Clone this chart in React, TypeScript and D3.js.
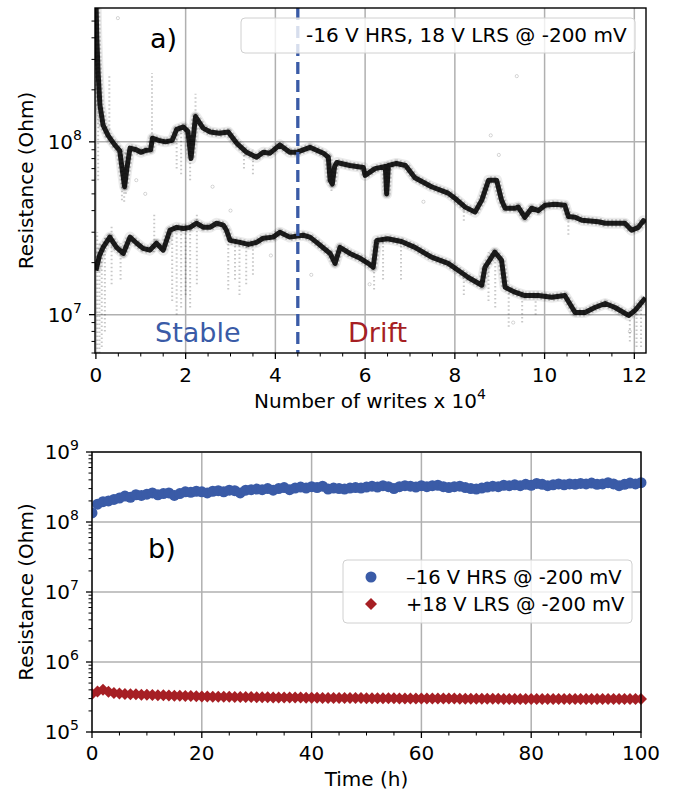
import React from "react";
import * as d3 from "d3";

// ---------- Panel a) data (writes in units of 1e4, resistance in Ohm) ----------
const hrsWrites = [0.0, 0.02, 0.05, 0.09, 0.16, 0.27, 0.42, 0.53, 0.6, 0.64, 0.69, 0.76, 0.9, 1.0, 1.1, 1.22, 1.26, 1.4, 1.55, 1.7, 1.8, 1.95, 2.05, 2.12, 2.22, 2.39, 2.55, 2.75, 2.95, 3.14, 3.36, 3.58, 3.73, 3.88, 4.1, 4.32, 4.47, 4.77, 5.07, 5.18, 5.22, 5.27, 5.32, 5.37, 5.66, 5.96, 6.0, 6.22, 6.45, 6.48, 6.52, 6.7, 6.9, 7.11, 7.48, 7.85, 8.0, 8.23, 8.45, 8.6, 8.75, 8.93, 9.04, 9.12, 9.34, 9.41, 9.56, 9.71, 9.86, 10.01, 10.23, 10.45, 10.53, 10.68, 10.83, 11.2, 11.35, 11.79, 11.94, 12.09, 12.2, 12.25];
const hrsOhm = [7.0e8, 4.0e8, 2.5e8, 1.63e8, 1.25e8, 1.09e8, 9.6e7, 8.9e7, 6.5e7, 5.5e7, 7.0e7, 9.2e7, 9.0e7, 8.7e7, 8.9e7, 9.0e7, 1.05e8, 1.02e8, 1.0e8, 1.02e8, 1.18e8, 1.22e8, 1.15e8, 8.0e7, 1.4e8, 1.2e8, 1.14e8, 1.12e8, 1.14e8, 9.8e7, 8.7e7, 8.15e7, 8.7e7, 8.6e7, 9.6e7, 8.7e7, 8.7e7, 9.3e7, 8.6e7, 8.15e7, 6.0e7, 5.7e7, 7.2e7, 7.6e7, 7.3e7, 7.1e7, 6.4e7, 7.0e7, 7.2e7, 5.0e7, 7.3e7, 7.5e7, 7.3e7, 6.2e7, 5.5e7, 5.05e7, 4.72e7, 4.19e7, 3.92e7, 4.6e7, 6.0e7, 6.0e7, 4.6e7, 4.13e7, 4.13e7, 4.2e7, 3.66e7, 4.13e7, 4.0e7, 4.3e7, 4.35e7, 4.3e7, 3.7e7, 3.66e7, 3.52e7, 3.45e7, 3.38e7, 3.38e7, 3.08e7, 3.2e7, 3.5e7, 3.4e7];

const lrsWrites = [0.0, 0.08, 0.16, 0.31, 0.46, 0.61, 0.76, 0.91, 1.05, 1.2, 1.35, 1.5, 1.65, 1.8, 1.95, 2.1, 2.24, 2.4, 2.54, 2.69, 2.84, 2.91, 2.99, 3.21, 3.4, 3.58, 3.73, 3.95, 4.1, 4.32, 4.62, 4.77, 4.92, 5.22, 5.33, 5.44, 5.66, 5.89, 6.07, 6.18, 6.26, 6.5, 6.81, 7.11, 7.48, 7.85, 8.08, 8.3, 8.6, 8.67, 8.89, 9.04, 9.12, 9.34, 9.56, 9.86, 10.16, 10.45, 10.68, 10.9, 11.12, 11.35, 11.57, 11.87, 12.02, 12.2, 12.25];
const lrsOhm = [1.8e7, 2.2e7, 2.45e7, 2.81e7, 2.45e7, 2.26e7, 2.81e7, 2.59e7, 2.42e7, 2.36e7, 2.59e7, 2.36e7, 3.08e7, 3.2e7, 3.15e7, 3.2e7, 3.38e7, 3.2e7, 3.2e7, 3.38e7, 3.3e7, 3.08e7, 2.69e7, 2.62e7, 2.55e7, 2.62e7, 2.77e7, 2.81e7, 3.0e7, 2.81e7, 2.88e7, 2.81e7, 2.62e7, 2.26e7, 1.98e7, 2.45e7, 2.26e7, 2.12e7, 1.98e7, 1.88e7, 2.69e7, 2.75e7, 2.65e7, 2.45e7, 2.15e7, 1.98e7, 1.8e7, 1.64e7, 1.48e7, 1.88e7, 2.3e7, 2.07e7, 1.44e7, 1.35e7, 1.29e7, 1.29e7, 1.26e7, 1.29e7, 1.03e7, 1.03e7, 1.1e7, 1.16e7, 1.1e7, 9.9e6, 1.06e7, 1.21e7, 1.25e7];

// noise streaks: [writes, low Ohm, high Ohm]
const hrsStreaks: [number, number, number][] = [
  [0.05, 6e7, 3.2e8], [0.3, 1.0e8, 2.4e8], [0.58, 4.6e7, 9e7], [0.63, 4.5e7, 9e7], [0.67, 5e7, 9e7],
  [1.25, 1.0e8, 2.5e8], [1.8, 7e7, 1.15e8], [1.9, 6.5e7, 1.2e8], [2.1, 6e7, 1.1e8], [2.22, 1.1e8, 1.9e8],
  [3.3, 7e7, 9e7], [3.5, 6.5e7, 9e7], [5.25, 5.2e7, 7.5e7], [6.48, 4.8e7, 7.4e7], [10.53, 2.9e7, 4.2e7], [8.2, 3.5e7, 4.5e7],
];
const lrsStreaks: [number, number, number][] = [
  [0.03, 6e6, 3e7], [0.08, 6e6, 2.6e7], [0.13, 6.5e6, 2.6e7], [0.2, 8e6, 2.8e7], [0.35, 1.5e7, 3.3e7], [0.55, 1.6e7, 2.6e7],
  [1.3, 2.3e7, 3.8e7], [1.7, 1.2e7, 3.2e7], [1.8, 1.0e7, 3.2e7], [1.9, 1.1e7, 3.3e7], [2.0, 1.3e7, 3.3e7], [2.1, 1.1e7, 3.3e7],
  [2.25, 1.5e7, 3.9e7], [2.95, 1.4e7, 2.7e7], [3.1, 1.6e7, 2.7e7], [3.2, 1.3e7, 2.6e7], [3.35, 1.5e7, 2.6e7], [3.5, 1.7e7, 2.6e7],
  [6.2, 1.4e7, 2.8e7], [6.4, 1.6e7, 2.8e7], [6.8, 1.6e7, 2.7e7], [8.2, 1.3e7, 1.8e7], [8.75, 1.2e7, 2.3e7], [8.9, 1.1e7, 2.3e7],
  [9.2, 8.5e6, 1.4e7], [9.5, 9e6, 1.3e7], [9.8, 1e7, 1.3e7], [11.9, 7e6, 1.05e7], [12.05, 6.5e6, 1.1e7], [12.15, 6.5e6, 1.2e7],
];
const outlierWrites = [0.49, 9.38, 8.8, 8.98, 0.9, 1.1, 2.6, 3.0, 7.3, 6.1, 9.3, 11.9, 4.8, 3.9];
const outlierOhm = [5.2e8, 2.4e8, 1.09e8, 8.4e7, 6e7, 5e7, 5.5e7, 4e7, 4.5e7, 1.5e7, 9e6, 8e6, 1.7e7, 2.2e7];

const xTicksA = [0, 2, 4, 6, 8, 10, 12];
const yTicksA = [1e7, 1e8];
const dividerWrites = 4.5;

// ---------- Panel b) data (time in h, resistance in Ohm) ----------
const timeHours = d3.range(0, 101);
const hrsTimeOhm = [1.35e8, 1.8e8, 1.95e8, 2.0e8, 2.1e8, 2.2e8, 2.35e8, 2.25e8, 2.45e8, 2.4e8, 2.5e8, 2.6e8, 2.45e8, 2.55e8, 2.6e8, 2.4e8, 2.55e8, 2.7e8, 2.65e8, 2.75e8, 2.7e8, 2.6e8, 2.75e8, 2.8e8, 2.7e8, 2.85e8, 2.8e8, 2.6e8, 2.85e8, 2.9e8, 2.95e8, 2.9e8, 3.0e8, 2.85e8, 3.0e8, 3.1e8, 2.9e8, 3.05e8, 3.15e8, 3.05e8, 3.2e8, 3.1e8, 3.25e8, 2.95e8, 3.05e8, 3.0e8, 2.95e8, 3.05e8, 3.1e8, 3.05e8, 3.15e8, 3.25e8, 3.15e8, 3.3e8, 3.2e8, 3.0e8, 3.2e8, 3.3e8, 3.25e8, 3.15e8, 3.3e8, 3.2e8, 3.3e8, 3.35e8, 3.2e8, 3.1e8, 3.2e8, 3.25e8, 3.1e8, 3.0e8, 2.95e8, 3.05e8, 3.15e8, 3.25e8, 3.2e8, 3.35e8, 3.3e8, 3.4e8, 3.3e8, 3.45e8, 3.35e8, 3.55e8, 3.45e8, 3.3e8, 3.4e8, 3.5e8, 3.4e8, 3.5e8, 3.45e8, 3.55e8, 3.5e8, 3.6e8, 3.45e8, 3.5e8, 3.65e8, 3.5e8, 3.3e8, 3.45e8, 3.6e8, 3.5e8, 3.65e8];
const lrsTimeOhm = [3.5e5, 3.8e5, 4.0e5, 3.75e5, 3.6e5, 3.55e5, 3.5e5, 3.45e5, 3.45e5, 3.4e5, 3.4e5, 3.38e5, 3.35e5, 3.35e5, 3.32e5, 3.3e5, 3.3e5, 3.28e5, 3.27e5, 3.25e5, 3.22e5, 3.22e5, 3.2e5, 3.2e5, 3.18e5, 3.18e5, 3.17e5, 3.16e5, 3.15e5, 3.15e5, 3.14e5, 3.13e5, 3.13e5, 3.12e5, 3.12e5, 3.11e5, 3.1e5, 3.1e5, 3.1e5, 3.09e5, 3.08e5, 3.08e5, 3.07e5, 3.07e5, 3.06e5, 3.06e5, 3.06e5, 3.05e5, 3.05e5, 3.05e5, 3.04e5, 3.04e5, 3.04e5, 3.03e5, 3.03e5, 3.03e5, 3.02e5, 3.02e5, 3.02e5, 3.02e5, 3.01e5, 3.01e5, 3.01e5, 3.0e5, 3.0e5, 3.0e5, 3.0e5, 2.99e5, 2.99e5, 2.99e5, 2.98e5, 2.98e5, 2.98e5, 2.98e5, 2.98e5, 2.97e5, 2.97e5, 2.97e5, 2.97e5, 2.97e5, 2.97e5, 2.96e5, 2.96e5, 2.96e5, 2.96e5, 2.96e5, 2.96e5, 2.96e5, 2.96e5, 2.96e5, 2.95e5, 2.95e5, 2.95e5, 2.95e5, 2.95e5, 2.95e5, 2.95e5, 2.95e5, 2.95e5, 2.95e5, 2.95e5];
const xTicksB = [0, 20, 40, 60, 80, 100];
const yTicksB = [1e5, 1e6, 1e7, 1e8, 1e9];

const BLUE = "#3a5ba7";
const RED = "#a61f24";
const GRID = "#b0b0b0";
const FONT = "DejaVu Sans, sans-serif";

function logMinor(lo: number, hi: number): number[] {
  const out: number[] = [];
  for (let e = Math.floor(Math.log10(lo)); e <= Math.ceil(Math.log10(hi)); e++) {
    for (let m = 2; m <= 9; m++) {
      const v = m * Math.pow(10, e);
      if (v >= lo && v <= hi) out.push(v);
    }
  }
  return out;
}

function Pow10({ exp, fs }: { exp: number; fs: number }) {
  return (
    <>
      10
      <tspan dy={-fs * 0.45} fontSize={fs * 0.7}>{exp}</tspan>
    </>
  );
}

export default function App() {
  // ---- panel a scales ----
  const ax = d3.scaleLinear().domain([-0.02, 12.26]).range([95, 646]);
  const ay = d3.scaleLog().domain([6.0e6, 5.95e8]).range([353, 8]);
  const aTop = 8, aBot = 353, aL = 95, aR = 646;

  // ---- panel b scales ----
  const bx = d3.scaleLinear().domain([0, 100]).range([92, 641]);
  const by = d3.scaleLog().domain([1e5, 1e9]).range([732, 452]);
  const bTop = 452, bBot = 732, bL = 92, bR = 641;

  const lineA = d3.line<[number, number]>().x((d) => ax(d[0])).y((d) => ay(d[1])).curve(d3.curveLinear);
  const hrsPts = hrsWrites.map((x, i) => [x, hrsOhm[i]] as [number, number]);
  const lrsPts = lrsWrites.map((x, i) => [x, lrsOhm[i]] as [number, number]);

  const minorXA = d3.range(0, 12.01, 0.5).filter((v) => v % 2 !== 0);
  const minorYA = logMinor(6.0e6, 5.95e8);
  const minorXB = d3.range(0, 101, 5).filter((v) => v % 20 !== 0);
  const minorYB = logMinor(1e5, 1e9);

  const diamond = d3.symbol().type(d3.symbolSquare).size(72)();

  return (
    <svg width={675} height={790} style={{ display: "block", position: "absolute", left: 0, top: 0 }} fontFamily={FONT}>
      <defs>
        <clipPath id="clipA"><rect x={aL} y={aTop} width={aR - aL} height={aBot - aTop} /></clipPath>
        <clipPath id="clipB"><rect x={bL} y={bTop - 6} width={bR - bL + 6} height={bBot - bTop + 6} /></clipPath>
      </defs>
      <rect width={675} height={790} fill="#fff" />

      {/* ================= Panel a ================= */}
      <g>
        {xTicksA.map((t) => (
          <line key={"gxa" + t} x1={ax(t)} x2={ax(t)} y1={aTop} y2={aBot} stroke={GRID} strokeWidth={1.5} />
        ))}
        {yTicksA.map((t) => (
          <line key={"gya" + t} x1={aL} x2={aR} y1={ay(t)} y2={ay(t)} stroke={GRID} strokeWidth={1.5} />
        ))}
        <g clipPath="url(#clipA)">
          {hrsStreaks.concat(lrsStreaks).map((s, i) => (
            <line key={"st" + i} x1={ax(s[0])} x2={ax(s[0])} y1={ay(s[1])} y2={ay(s[2])} stroke="#000" strokeOpacity={0.22} strokeWidth={2} strokeDasharray="1.5,2.5" />
          ))}
          {outlierWrites.map((x, i) => (
            <circle key={"o" + i} cx={ax(x)} cy={ay(outlierOhm[i])} r={1.6} fill="none" stroke="#000" strokeOpacity={0.2} strokeWidth={0.8} />
          ))}
          {[hrsPts, lrsPts].map((pts, i) => (
            <g key={"band" + i}>
              <path d={lineA(pts) || ""} fill="none" stroke="#000" strokeOpacity={0.08} strokeWidth={11} strokeLinejoin="round" />
              <path d={lineA(pts) || ""} fill="none" stroke="#000" strokeOpacity={0.2} strokeWidth={8} strokeLinejoin="round" strokeDasharray="2,2" />
              <path d={lineA(pts) || ""} fill="none" stroke="#000" strokeOpacity={0.88} strokeWidth={5} strokeLinejoin="round" />
            </g>
          ))}
        </g>
        <line x1={ax(dividerWrites)} x2={ax(dividerWrites)} y1={aTop} y2={aBot} stroke={BLUE} strokeWidth={3.3} strokeDasharray="12,6" />
        {/* legend a */}
        <rect x={241} y={18} width={394} height={35} rx={4} fill="#fff" fillOpacity={0.8} stroke="#d0d0d0" strokeWidth={1} />
        <text x={306} y={42} fontSize={20} fill="#000">-16 V HRS, 18 V LRS @ -200 mV</text>
        <text x={150} y={48} fontSize={27} fill="#000">a)</text>
        <text x={155} y={342} fontSize={27} fill={BLUE}>Stable</text>
        <text x={348} y={342} fontSize={27} fill={RED}>Drift</text>
        {/* spines */}
        <rect x={aL} y={aTop} width={aR - aL} height={aBot - aTop} fill="none" stroke="#000" strokeWidth={1.4} />
        {/* ticks */}
        {xTicksA.map((t) => (
          <g key={"txa" + t}>
            <line x1={ax(t)} x2={ax(t)} y1={aBot} y2={aBot + 6} stroke="#000" strokeWidth={1.3} />
            <text x={ax(t)} y={382} fontSize={20} textAnchor="middle">{t}</text>
          </g>
        ))}
        {minorXA.map((t) => (
          <line key={"mxa" + t} x1={ax(t)} x2={ax(t)} y1={aBot} y2={aBot + 3.5} stroke="#000" strokeWidth={1} />
        ))}
        {yTicksA.map((t) => (
          <g key={"tya" + t}>
            <line x1={aL - 6} x2={aL} y1={ay(t)} y2={ay(t)} stroke="#000" strokeWidth={1.3} />
            <text x={82} y={ay(t) + 7} fontSize={20} textAnchor="end"><Pow10 exp={Math.round(Math.log10(t))} fs={20} /></text>
          </g>
        ))}
        {minorYA.map((t) => (
          <line key={"mya" + t} x1={aL - 3.5} x2={aL} y1={ay(t)} y2={ay(t)} stroke="#000" strokeWidth={1} />
        ))}
        <text x={370} y={408} fontSize={20} textAnchor="middle">
          Number of writes x 10<tspan dy={-9} fontSize={14}>4</tspan>
        </text>
        <text transform={`translate(33,${(aTop + aBot) / 2}) rotate(-90)`} fontSize={20} textAnchor="middle">Resistance (Ohm)</text>
      </g>

      {/* ================= Panel b ================= */}
      <g>
        {xTicksB.map((t) => (
          <line key={"gxb" + t} x1={bx(t)} x2={bx(t)} y1={bTop} y2={bBot} stroke={GRID} strokeWidth={1.5} />
        ))}
        {yTicksB.map((t) => (
          <line key={"gyb" + t} x1={bL} x2={bR} y1={by(t)} y2={by(t)} stroke={GRID} strokeWidth={1.5} />
        ))}
        <g clipPath="url(#clipB)">
          {timeHours.map((t, i) => (
            <circle key={"bh" + i} cx={bx(t)} cy={by(hrsTimeOhm[i])} r={5.5} fill={BLUE} />
          ))}
          {timeHours.map((t, i) => (
            <path key={"bl" + i} d={diamond || ""} transform={`translate(${bx(t)},${by(lrsTimeOhm[i])}) rotate(45)`} fill={RED} />
          ))}
        </g>
        <rect x={343} y={560} width={289} height={63} rx={4} fill="#fff" fillOpacity={0.8} stroke="#d0d0d0" strokeWidth={1} />
        <circle cx={371} cy={577} r={5.5} fill={BLUE} />
        <path d={diamond || ""} transform="translate(371,604) rotate(45)" fill={RED} />
        <text x={406} y={584} fontSize={19.5}>–16 V HRS @ -200 mV</text>
        <text x={406} y={611} fontSize={19.5}>+18 V LRS @ -200 mV</text>
        <text x={148} y={558} fontSize={27}>b)</text>
        <rect x={bL} y={bTop} width={bR - bL} height={bBot - bTop} fill="none" stroke="#000" strokeWidth={1.4} />
        {xTicksB.map((t) => (
          <g key={"txb" + t}>
            <line x1={bx(t)} x2={bx(t)} y1={bBot} y2={bBot + 6} stroke="#000" strokeWidth={1.3} />
            <text x={bx(t)} y={760} fontSize={20} textAnchor="middle">{t}</text>
          </g>
        ))}
        {minorXB.map((t) => (
          <line key={"mxb" + t} x1={bx(t)} x2={bx(t)} y1={bBot} y2={bBot + 3.5} stroke="#000" strokeWidth={1} />
        ))}
        {yTicksB.map((t) => (
          <g key={"tyb" + t}>
            <line x1={bL - 6} x2={bL} y1={by(t)} y2={by(t)} stroke="#000" strokeWidth={1.3} />
            <text x={79} y={by(t) + 7} fontSize={20} textAnchor="end"><Pow10 exp={Math.round(Math.log10(t))} fs={20} /></text>
          </g>
        ))}
        {minorYB.map((t) => (
          <line key={"myb" + t} x1={bL - 3.5} x2={bL} y1={by(t)} y2={by(t)} stroke="#000" strokeWidth={1} />
        ))}
        <text x={(bL + bR) / 2} y={786} fontSize={20} textAnchor="middle">Time (h)</text>
        <text transform={`translate(33,${(bTop + bBot) / 2}) rotate(-90)`} fontSize={20} textAnchor="middle">Resistance (Ohm)</text>
      </g>
    </svg>
  );
}
